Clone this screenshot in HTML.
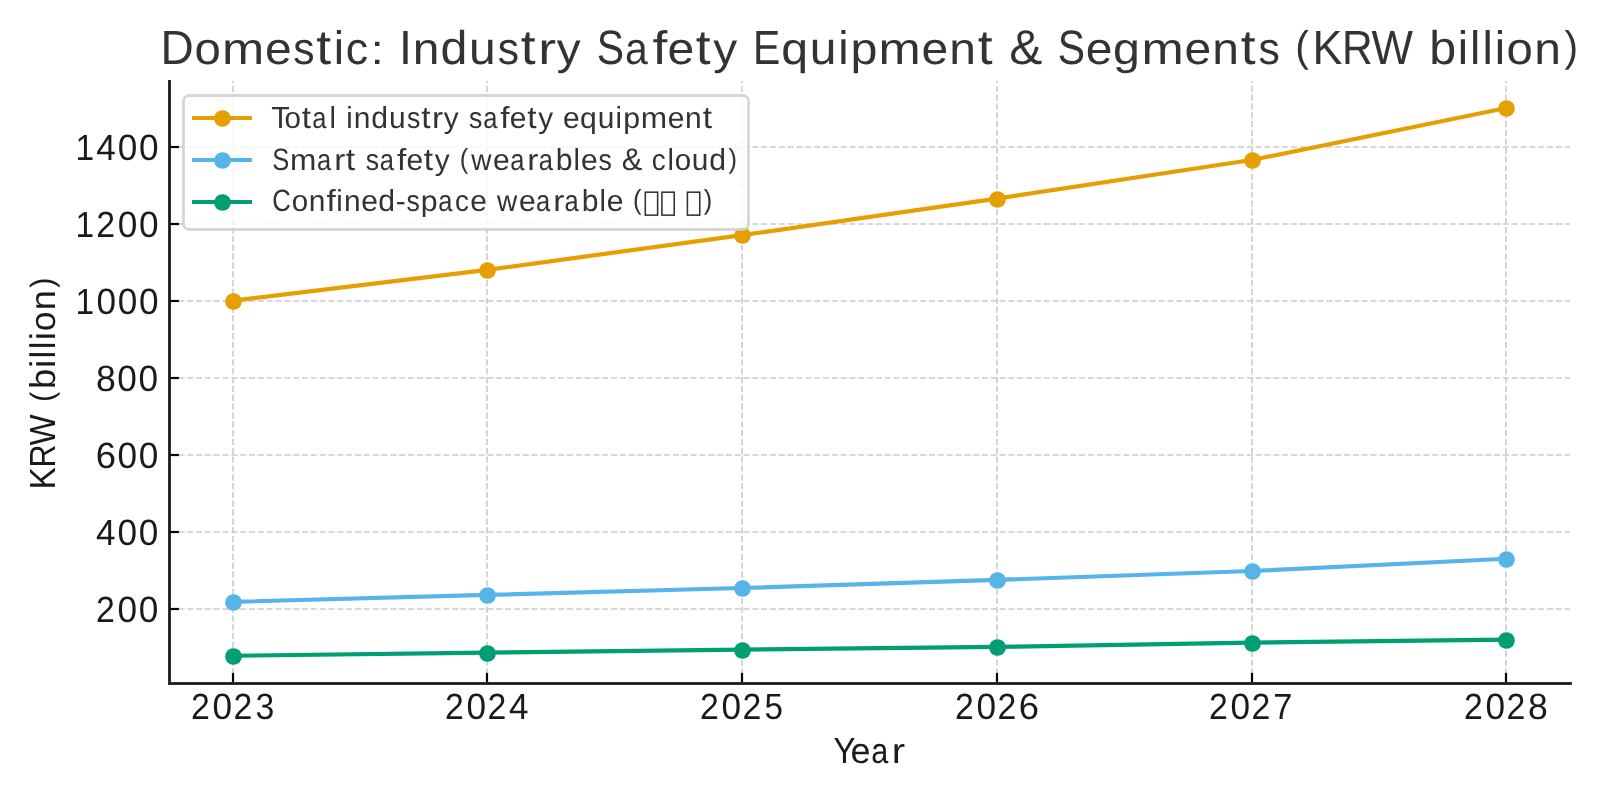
<!DOCTYPE html><html><head><meta charset="utf-8"><style>html,body{margin:0;padding:0;background:#fff;width:1600px;height:800px;overflow:hidden}svg{display:block;will-change:transform}text{font-family:"Liberation Sans",sans-serif;text-rendering:geometricPrecision}</style></head><body>
<svg width="1600" height="800" viewBox="0 0 1600 800">
<rect x="0" y="0" width="1600" height="800" fill="#ffffff"/>
<g stroke="#cccccc" stroke-width="1.67" stroke-dasharray="6.16 2.67" fill="none">
<line x1="169.5" y1="609" x2="1570.0" y2="609"/>
<line x1="169.5" y1="532" x2="1570.0" y2="532"/>
<line x1="169.5" y1="455" x2="1570.0" y2="455"/>
<line x1="169.5" y1="378" x2="1570.0" y2="378"/>
<line x1="169.5" y1="301" x2="1570.0" y2="301"/>
<line x1="169.5" y1="224" x2="1570.0" y2="224"/>
<line x1="169.5" y1="147" x2="1570.0" y2="147"/>
<line x1="233.0" y1="683.5" x2="233.0" y2="81.0"/>
<line x1="487.0" y1="683.5" x2="487.0" y2="81.0"/>
<line x1="742.0" y1="683.5" x2="742.0" y2="81.0"/>
<line x1="997.0" y1="683.5" x2="997.0" y2="81.0"/>
<line x1="1252.0" y1="683.5" x2="1252.0" y2="81.0"/>
<line x1="1506.0" y1="683.5" x2="1506.0" y2="81.0"/>
</g>
<polyline points="232.64,300.64 487.38,269.83 742.11,235.16 996.85,198.57 1251.58,160.05 1506.32,108.05" fill="none" stroke="#E69F00" stroke-width="4.17" stroke-linejoin="round"/>
<circle cx="233.5" cy="301.5" r="8.35" fill="#E69F00"/>
<circle cx="487.5" cy="270.5" r="8.35" fill="#E69F00"/>
<circle cx="742.5" cy="235.5" r="8.35" fill="#E69F00"/>
<circle cx="997.5" cy="199.5" r="8.35" fill="#E69F00"/>
<circle cx="1252.5" cy="160.5" r="8.35" fill="#E69F00"/>
<circle cx="1506.5" cy="108.5" r="8.35" fill="#E69F00"/>
<polyline points="232.64,601.85 487.38,594.92 742.11,587.99 996.85,579.9 1251.58,571.04 1506.32,558.71" fill="none" stroke="#56B4E9" stroke-width="4.17" stroke-linejoin="round"/>
<circle cx="233.5" cy="602.5" r="8.35" fill="#56B4E9"/>
<circle cx="487.5" cy="595.5" r="8.35" fill="#56B4E9"/>
<circle cx="742.5" cy="588.5" r="8.35" fill="#56B4E9"/>
<circle cx="997.5" cy="580.5" r="8.35" fill="#56B4E9"/>
<circle cx="1252.5" cy="571.5" r="8.35" fill="#56B4E9"/>
<circle cx="1506.5" cy="559.5" r="8.35" fill="#56B4E9"/>
<polyline points="232.64,655.78 487.38,652.7 742.11,649.62 996.85,646.92 1251.58,642.68 1506.32,639.6" fill="none" stroke="#009E73" stroke-width="4.17" stroke-linejoin="round"/>
<circle cx="233.5" cy="656.5" r="8.35" fill="#009E73"/>
<circle cx="487.5" cy="653.5" r="8.35" fill="#009E73"/>
<circle cx="742.5" cy="650.5" r="8.35" fill="#009E73"/>
<circle cx="997.5" cy="647.5" r="8.35" fill="#009E73"/>
<circle cx="1252.5" cy="643.5" r="8.35" fill="#009E73"/>
<circle cx="1506.5" cy="640.5" r="8.35" fill="#009E73"/>
<g stroke="#000" stroke-width="2.2">
<line x1="169.5" y1="609" x2="178.9" y2="609"/>
<line x1="169.5" y1="532" x2="178.9" y2="532"/>
<line x1="169.5" y1="455" x2="178.9" y2="455"/>
<line x1="169.5" y1="378" x2="178.9" y2="378"/>
<line x1="169.5" y1="301" x2="178.9" y2="301"/>
<line x1="169.5" y1="224" x2="178.9" y2="224"/>
<line x1="169.5" y1="147" x2="178.9" y2="147"/>
<line x1="233.0" y1="683.5" x2="233.0" y2="672.9"/>
<line x1="487.0" y1="683.5" x2="487.0" y2="672.9"/>
<line x1="742.0" y1="683.5" x2="742.0" y2="672.9"/>
<line x1="997.0" y1="683.5" x2="997.0" y2="672.9"/>
<line x1="1252.0" y1="683.5" x2="1252.0" y2="672.9"/>
<line x1="1506.0" y1="683.5" x2="1506.0" y2="672.9"/>
</g>
<line x1="169.5" y1="80.0" x2="169.5" y2="684.9" stroke="#1a1a1a" stroke-width="2.8"/>
<rect x="168.11" y="682" width="1403.79" height="1" fill="#323232"/>
<rect x="168.11" y="683" width="1403.79" height="1" fill="#1a1a1a"/>
<rect x="168.11" y="684" width="1403.79" height="1" fill="#323232"/>
<rect x="183.5" y="95.5" width="565" height="134" rx="5.5" ry="5.5" fill="#ffffff" fill-opacity="0.8" stroke="#cccccc" stroke-opacity="0.8" stroke-width="2.78"/>
<line x1="192" y1="118.0" x2="252" y2="118.0" stroke="#E69F00" stroke-width="4.17"/>
<circle cx="222.5" cy="118.5" r="8.35" fill="#E69F00"/>
<line x1="192" y1="160.0" x2="252" y2="160.0" stroke="#56B4E9" stroke-width="4.17"/>
<circle cx="222.5" cy="160.5" r="8.35" fill="#56B4E9"/>
<line x1="192" y1="202.0" x2="252" y2="202.0" stroke="#009E73" stroke-width="4.17"/>
<circle cx="222.5" cy="202.5" r="8.35" fill="#009E73"/>
<g fill="#333333" font-size="46.44"><text transform="translate(160.47,64.00) scale(0.991,1.033)">D</text><text transform="translate(194.59,64.17) scale(1.019,0.967)">o</text><text transform="translate(222.06,64.00) scale(1.091,0.960)">m</text><text transform="translate(265.04,64.17) scale(1.035,0.967)">e</text><text transform="translate(293.22,64.17) scale(0.919,0.970)">s</text><text transform="translate(316.29,63.62) scale(1.150,1.046)">t</text><text transform="translate(333.79,64.00) scale(1.000,1.010)">i</text><text transform="translate(345.68,64.17) scale(0.961,0.967)">c</text><text transform="translate(370.68,64.00) scale(1.000,0.903)">:</text><text transform="translate(398.99,64.00) scale(1.000,1.033)">I</text><text transform="translate(412.86,64.00) scale(1.033,0.960)">n</text><text transform="translate(440.55,64.17) scale(1.041,1.016)">d</text><text transform="translate(469.04,64.16) scale(1.033,0.985)">u</text><text transform="translate(497.72,64.17) scale(0.919,0.970)">s</text><text transform="translate(520.79,63.62) scale(1.150,1.046)">t</text><text transform="translate(538.20,64.00) scale(1.150,0.960)">r</text><text transform="translate(556.84,63.96) scale(1.029,0.954)">y</text><text transform="translate(596.86,64.17) scale(0.880,1.041)">S</text><text transform="translate(625.09,64.17) scale(0.880,0.967)">a</text><text transform="translate(652.43,64.00) scale(1.150,1.012)">f</text><text transform="translate(667.54,64.17) scale(1.035,0.967)">e</text><text transform="translate(695.67,63.62) scale(1.150,1.046)">t</text><text transform="translate(713.34,63.96) scale(1.029,0.954)">y</text><text transform="translate(753.02,64.00) scale(0.880,1.033)">E</text><text transform="translate(781.17,63.93) scale(1.040,0.957)">q</text><text transform="translate(809.67,64.16) scale(1.033,0.985)">u</text><text transform="translate(838.16,64.00) scale(1.000,1.010)">i</text><text transform="translate(850.43,63.92) scale(1.042,0.958)">p</text><text transform="translate(878.43,64.00) scale(1.091,0.960)">m</text><text transform="translate(921.41,64.17) scale(1.035,0.967)">e</text><text transform="translate(949.24,64.00) scale(1.033,0.960)">n</text><text transform="translate(977.67,63.62) scale(1.150,1.046)">t</text><text transform="translate(1009.30,64.17) scale(1.067,1.051)">&amp;</text><text transform="translate(1057.73,64.17) scale(0.880,1.041)">S</text><text transform="translate(1085.66,64.17) scale(1.035,0.967)">e</text><text transform="translate(1113.05,63.91) scale(1.041,0.959)">g</text><text transform="translate(1141.56,64.00) scale(1.091,0.960)">m</text><text transform="translate(1184.54,64.17) scale(1.035,0.967)">e</text><text transform="translate(1212.36,64.00) scale(1.033,0.960)">n</text><text transform="translate(1240.79,63.62) scale(1.150,1.046)">t</text><text transform="translate(1258.47,64.17) scale(0.919,0.970)">s</text><text transform="translate(1295.36,60.96) scale(0.880,0.919)">(</text><text transform="translate(1312.57,64.00) scale(0.966,1.033)">K</text><text transform="translate(1341.88,64.00) scale(0.916,1.033)">R</text><text transform="translate(1371.54,64.00) scale(0.945,1.033)">W</text><text transform="translate(1429.30,64.17) scale(1.042,1.016)">b</text><text transform="translate(1457.66,64.00) scale(1.000,1.010)">i</text><text transform="translate(1470.02,64.00) scale(1.000,1.010)">l</text><text transform="translate(1482.39,64.00) scale(1.000,1.010)">l</text><text transform="translate(1494.79,64.00) scale(1.000,1.010)">i</text><text transform="translate(1506.59,64.17) scale(1.019,0.967)">o</text><text transform="translate(1534.24,64.00) scale(1.033,0.960)">n</text><text transform="translate(1564.39,60.96) scale(0.880,0.919)">)</text></g>
<g fill="#1a1a1a" font-size="34.83"><text transform="translate(96.05,622.00) scale(0.973,1.047)">2</text><text transform="translate(117.50,622.13) scale(1.010,1.052)">0</text><text transform="translate(138.75,622.13) scale(1.010,1.052)">0</text></g>
<g fill="#1a1a1a" font-size="34.83"><text transform="translate(96.12,545.00) scale(1.010,1.043)">4</text><text transform="translate(117.38,545.13) scale(1.010,1.052)">0</text><text transform="translate(138.63,545.13) scale(1.010,1.052)">0</text></g>
<g fill="#1a1a1a" font-size="34.83"><text transform="translate(95.78,468.13) scale(1.046,1.052)">6</text><text transform="translate(117.38,468.13) scale(1.010,1.052)">0</text><text transform="translate(138.63,468.13) scale(1.010,1.052)">0</text></g>
<g fill="#1a1a1a" font-size="34.83"><text transform="translate(96.02,391.13) scale(1.021,1.052)">8</text><text transform="translate(117.25,391.13) scale(1.010,1.052)">0</text><text transform="translate(138.50,391.13) scale(1.010,1.052)">0</text></g>
<g fill="#1a1a1a" font-size="34.83"><text transform="translate(75.41,314.00) scale(0.964,1.043)">1</text><text transform="translate(96.38,314.13) scale(1.010,1.052)">0</text><text transform="translate(117.63,314.13) scale(1.010,1.052)">0</text><text transform="translate(138.88,314.13) scale(1.010,1.052)">0</text></g>
<g fill="#1a1a1a" font-size="34.83"><text transform="translate(75.41,237.00) scale(0.964,1.043)">1</text><text transform="translate(96.30,237.00) scale(0.973,1.047)">2</text><text transform="translate(117.75,237.13) scale(1.010,1.052)">0</text><text transform="translate(139.00,237.13) scale(1.010,1.052)">0</text></g>
<g fill="#1a1a1a" font-size="34.83"><text transform="translate(75.41,160.00) scale(0.964,1.043)">1</text><text transform="translate(96.37,160.00) scale(1.010,1.043)">4</text><text transform="translate(117.63,160.13) scale(1.010,1.052)">0</text><text transform="translate(138.88,160.13) scale(1.010,1.052)">0</text></g>
<g fill="#1a1a1a" font-size="34.83"><text transform="translate(190.95,719.00) scale(0.973,1.047)">2</text><text transform="translate(212.40,719.13) scale(1.010,1.052)">0</text><text transform="translate(233.57,719.00) scale(0.973,1.047)">2</text><text transform="translate(255.46,719.13) scale(0.970,1.052)">3</text></g>
<g fill="#1a1a1a" font-size="34.83"><text transform="translate(444.95,719.00) scale(0.973,1.047)">2</text><text transform="translate(466.40,719.13) scale(1.010,1.052)">0</text><text transform="translate(487.57,719.00) scale(0.973,1.047)">2</text><text transform="translate(509.02,719.00) scale(1.010,1.043)">4</text></g>
<g fill="#1a1a1a" font-size="34.83"><text transform="translate(699.95,719.00) scale(0.973,1.047)">2</text><text transform="translate(721.40,719.13) scale(1.010,1.052)">0</text><text transform="translate(742.57,719.00) scale(0.973,1.047)">2</text><text transform="translate(764.45,719.13) scale(0.953,1.049)">5</text></g>
<g fill="#1a1a1a" font-size="34.83"><text transform="translate(954.95,719.00) scale(0.973,1.047)">2</text><text transform="translate(976.40,719.13) scale(1.010,1.052)">0</text><text transform="translate(997.57,719.00) scale(0.973,1.047)">2</text><text transform="translate(1018.68,719.13) scale(1.046,1.052)">6</text></g>
<g fill="#1a1a1a" font-size="34.83"><text transform="translate(1208.95,719.00) scale(0.973,1.047)">2</text><text transform="translate(1230.40,719.13) scale(1.010,1.052)">0</text><text transform="translate(1251.57,719.00) scale(0.973,1.047)">2</text><text transform="translate(1273.17,719.00) scale(0.989,1.043)">7</text></g>
<g fill="#1a1a1a" font-size="34.83"><text transform="translate(1463.95,719.00) scale(0.973,1.047)">2</text><text transform="translate(1485.40,719.13) scale(1.010,1.052)">0</text><text transform="translate(1506.57,719.00) scale(0.973,1.047)">2</text><text transform="translate(1527.92,719.13) scale(1.021,1.052)">8</text></g>
<g fill="#1a1a1a" font-size="34.83"><text transform="translate(833.46,763.00) scale(0.945,1.043)">Y</text><text transform="translate(850.44,763.13) scale(1.035,1.021)">e</text><text transform="translate(871.16,763.13) scale(0.880,1.021)">a</text><text transform="translate(891.71,763.00) scale(1.150,1.014)">r</text></g>
<g fill="#1a1a1a" font-size="34.83"><text transform="translate(55.00,489.61) rotate(-90) scale(0.966,1.043)">K</text><text transform="translate(55.00,467.59) rotate(-90) scale(0.916,1.043)">R</text><text transform="translate(55.00,445.41) rotate(-90) scale(0.945,1.043)">W</text><text transform="translate(52.65,402.11) rotate(-90) scale(0.880,0.929)">(</text><text transform="translate(55.13,389.06) rotate(-90) scale(1.042,1.029)">b</text><text transform="translate(55.00,367.72) rotate(-90) scale(1.000,1.023)">i</text><text transform="translate(55.00,358.49) rotate(-90) scale(1.000,1.023)">l</text><text transform="translate(55.00,349.24) rotate(-90) scale(1.000,1.023)">l</text><text transform="translate(55.00,339.97) rotate(-90) scale(1.000,1.023)">i</text><text transform="translate(55.13,331.15) rotate(-90) scale(1.018,1.021)">o</text><text transform="translate(55.00,310.36) rotate(-90) scale(1.033,1.014)">n</text><text transform="translate(52.65,287.70) rotate(-90) scale(0.880,0.929)">)</text></g>
<g fill="#333333" font-size="29.03"><text transform="translate(271.24,128.00) scale(1.042,1.051)">T</text><text transform="translate(284.42,128.11) scale(1.017,1.031)">o</text><text transform="translate(301.72,127.76) scale(1.150,1.065)">t</text><text transform="translate(312.31,128.11) scale(0.880,1.031)">a</text><text transform="translate(329.50,128.00) scale(1.000,1.046)">l</text><text transform="translate(346.14,128.00) scale(1.000,1.046)">i</text><text transform="translate(353.78,128.00) scale(1.031,1.024)">n</text><text transform="translate(371.14,128.11) scale(1.039,1.051)">d</text><text transform="translate(388.92,128.10) scale(1.030,1.050)">u</text><text transform="translate(406.88,128.11) scale(0.917,1.034)">s</text><text transform="translate(421.34,127.76) scale(1.150,1.065)">t</text><text transform="translate(432.07,128.00) scale(1.150,1.024)">r</text><text transform="translate(443.76,127.78) scale(1.026,1.004)">y</text><text transform="translate(469.01,128.11) scale(0.917,1.034)">s</text><text transform="translate(483.18,128.11) scale(0.880,1.031)">a</text><text transform="translate(500.32,128.00) scale(1.150,1.048)">f</text><text transform="translate(509.76,128.11) scale(1.032,1.031)">e</text><text transform="translate(527.22,127.76) scale(1.150,1.065)">t</text><text transform="translate(538.13,127.78) scale(1.026,1.004)">y</text><text transform="translate(562.88,128.11) scale(1.032,1.031)">e</text><text transform="translate(579.89,127.75) scale(1.038,1.009)">q</text><text transform="translate(597.67,128.10) scale(1.030,1.050)">u</text><text transform="translate(615.52,128.00) scale(1.000,1.046)">i</text><text transform="translate(623.19,127.75) scale(1.040,1.009)">p</text><text transform="translate(640.67,128.00) scale(1.089,1.024)">m</text><text transform="translate(667.63,128.11) scale(1.032,1.031)">e</text><text transform="translate(684.90,128.00) scale(1.031,1.024)">n</text><text transform="translate(702.72,127.76) scale(1.150,1.065)">t</text></g>
<g fill="#333333" font-size="29.03"><text transform="translate(272.32,170.10) scale(0.880,1.065)">S</text><text transform="translate(289.92,170.00) scale(1.089,1.024)">m</text><text transform="translate(317.06,170.11) scale(0.880,1.031)">a</text><text transform="translate(334.20,170.00) scale(1.150,1.024)">r</text><text transform="translate(345.84,169.76) scale(1.150,1.065)">t</text><text transform="translate(365.63,170.11) scale(0.917,1.034)">s</text><text transform="translate(379.81,170.11) scale(0.880,1.031)">a</text><text transform="translate(396.95,170.00) scale(1.150,1.048)">f</text><text transform="translate(406.38,170.11) scale(1.032,1.031)">e</text><text transform="translate(423.84,169.76) scale(1.150,1.065)">t</text><text transform="translate(434.76,169.78) scale(1.026,1.004)">y</text><text transform="translate(459.78,167.99) scale(0.880,0.949)">(</text><text transform="translate(471.21,170.00) scale(0.966,1.018)">w</text><text transform="translate(493.01,170.11) scale(1.032,1.031)">e</text><text transform="translate(510.18,170.11) scale(0.880,1.031)">a</text><text transform="translate(527.32,170.00) scale(1.150,1.024)">r</text><text transform="translate(538.68,170.11) scale(0.880,1.031)">a</text><text transform="translate(555.82,170.11) scale(1.040,1.051)">b</text><text transform="translate(573.50,170.00) scale(1.000,1.046)">l</text><text transform="translate(580.88,170.11) scale(1.032,1.031)">e</text><text transform="translate(598.38,170.11) scale(0.917,1.034)">s</text><text transform="translate(621.66,170.10) scale(1.064,1.075)">&amp;</text><text transform="translate(651.85,170.11) scale(0.959,1.031)">c</text><text transform="translate(667.38,170.00) scale(1.000,1.046)">l</text><text transform="translate(674.79,170.11) scale(1.017,1.031)">o</text><text transform="translate(691.79,170.10) scale(1.030,1.050)">u</text><text transform="translate(709.26,170.11) scale(1.039,1.051)">d</text><text transform="translate(728.42,167.99) scale(0.880,0.949)">)</text></g>
<g fill="#333333" font-size="29.03"><text transform="translate(272.25,211.10) scale(0.887,1.065)">C</text><text transform="translate(291.67,211.11) scale(1.017,1.031)">o</text><text transform="translate(308.78,211.00) scale(1.031,1.024)">n</text><text transform="translate(326.45,211.00) scale(1.150,1.048)">f</text><text transform="translate(336.27,211.00) scale(1.000,1.046)">i</text><text transform="translate(343.90,211.00) scale(1.031,1.024)">n</text><text transform="translate(361.26,211.11) scale(1.032,1.031)">e</text><text transform="translate(378.26,211.11) scale(1.039,1.051)">d</text><text transform="translate(395.66,210.98) scale(1.030,1.012)">-</text><text transform="translate(406.38,211.11) scale(0.917,1.034)">s</text><text transform="translate(420.69,210.75) scale(1.040,1.009)">p</text><text transform="translate(438.18,211.11) scale(0.880,1.031)">a</text><text transform="translate(455.10,211.11) scale(0.959,1.031)">c</text><text transform="translate(470.26,211.11) scale(1.032,1.031)">e</text><text transform="translate(497.09,211.00) scale(0.966,1.018)">w</text><text transform="translate(518.88,211.11) scale(1.032,1.031)">e</text><text transform="translate(536.06,211.11) scale(0.880,1.031)">a</text><text transform="translate(553.20,211.00) scale(1.150,1.024)">r</text><text transform="translate(564.56,211.11) scale(0.880,1.031)">a</text><text transform="translate(581.69,211.11) scale(1.040,1.051)">b</text><text transform="translate(599.38,211.00) scale(1.000,1.046)">l</text><text transform="translate(606.76,211.11) scale(1.032,1.031)">e</text><text transform="translate(632.90,208.99) scale(0.880,0.949)">(</text><text transform="translate(703.67,208.99) scale(0.880,0.949)">)</text></g><g fill="none" stroke="#333333"><rect x="645.29" y="192.19" width="12.34" height="22.94" stroke-width="1.56"/><rect x="661.91" y="192.19" width="12.34" height="22.94" stroke-width="1.56"/><rect x="687.41" y="192.19" width="12.34" height="22.94" stroke-width="1.56"/></g>
</svg></body></html>
